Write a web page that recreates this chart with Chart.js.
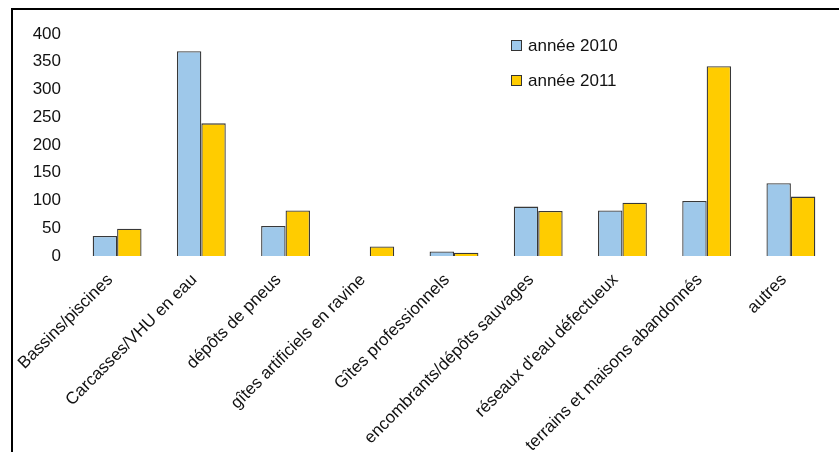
<!DOCTYPE html>
<html lang="fr">
<head>
  <meta charset="UTF-8" />
  <title>Gîtes larvaires 2010 / 2011</title>
  <script src="https://cdn.jsdelivr.net/npm/chart.js"></script>
  <style>
    * {
      box-sizing: border-box;
    }

    body {
      margin: 0;
      background: #fff;
      width: 839px;
      height: 452px;
      overflow: hidden;
      position: relative;
    }

    #frame {
      position: absolute;
      left: 11px;
      top: 8px;
      width: 900px;
      height: 500px;
      border-top: 2px solid #000;
      border-left: 2px solid #000;
    }

    #chart-container {
      position: absolute;
      left: 0;
      top: 0;
      width: 839px;
      height: 452px;
    }
  </style>
</head>
<body>

  <div id="frame"></div>
  <div id="chart-container">
    <canvas id="gitesChart"></canvas>
  </div>

  <script>
    const categories = [
      'Bassins/piscines',
      'Carcasses/VHU en eau',
      'dépôts de pneus',
      'gîtes artificiels en ravine',
      'Gîtes professionnels',
      'encombrants/dépôts sauvages',
      "réseaux d'eau défectueux",
      'terrains et maisons abandonnés',
      'autres'
    ];

    const seriesNames = ['année 2010', 'année 2011'];
    const values2010 = [36, 369, 54, 0, 8, 89, 82, 99, 131];
    const values2011 = [49, 239, 82, 17, 6, 81, 96, 342, 107];
    const yTicks = [0, 50, 100, 150, 200, 250, 300, 350, 400];

    const FONT = "'Liberation Sans', Arial, sans-serif";

    // legend drawn as a vertical list inside the plot, like the original
    const sideLegend = {
      id: 'sideLegend',
      afterDraw: chart => {
        const ctx = chart.ctx;
        ctx.save();
        ctx.font = '17px ' + FONT;
        ctx.textBaseline = 'middle';
        chart.data.datasets.forEach((ds, i) => {
          const y = 45 + i * 35;
          ctx.fillStyle = ds.backgroundColor;
          ctx.fillRect(511.5, y - 4.5, 10, 10);
          ctx.strokeStyle = '#333';
          ctx.lineWidth = 1;
          ctx.strokeRect(511.5, y - 4.5, 10, 10);
          ctx.fillStyle = '#111';
          ctx.fillText(ds.label, 528, y + 1);
        });
        ctx.restore();
      }
    };

    const ctx = document.getElementById('gitesChart').getContext('2d');

    const chart = new Chart(ctx, {
      type: 'bar',
      data: {
        labels: categories,
        datasets: [
          {
            label: seriesNames[0],
            data: values2010,
            backgroundColor: '#9ec8ea',
            borderColor: '#383838',
            borderWidth: 1.3
          },
          {
            label: seriesNames[1],
            data: values2011,
            backgroundColor: '#ffcc00',
            borderColor: '#383838',
            borderWidth: 1.3
          }
        ]
      },
      options: {
        responsive: true,
        maintainAspectRatio: false,
        animation: false,
        layout: {
          padding: { left: 0, right: 6, top: 34, bottom: 0 }
        },
        datasets: {
          bar: {
            categoryPercentage: 0.58,
            barPercentage: 1.0
          }
        },
        scales: {
          x: {
            grid: { display: false, drawTicks: false },
            border: { display: false },
            ticks: {
              color: '#111',
              font: { family: FONT, size: 17 },
              minRotation: 45,
              maxRotation: 45,
              autoSkip: false,
              padding: 14,
              labelOffset: -7
            },
            afterFit: scale => { scale.height = 196; }
          },
          y: {
            min: 0,
            max: 400,
            grid: { display: false, drawTicks: false },
            border: { display: false },
            afterBuildTicks: scale => {
              scale.ticks = yTicks.map(v => ({ value: v }));
            },
            ticks: {
              color: '#111',
              font: { family: FONT, size: 17 },
              padding: 14
            },
            afterFit: scale => { scale.width = 75; }
          }
        },
        plugins: {
          legend: { display: false },
          tooltip: { enabled: false }
        }
      },
      plugins: [sideLegend]
    });
  </script>

</body>
</html>
